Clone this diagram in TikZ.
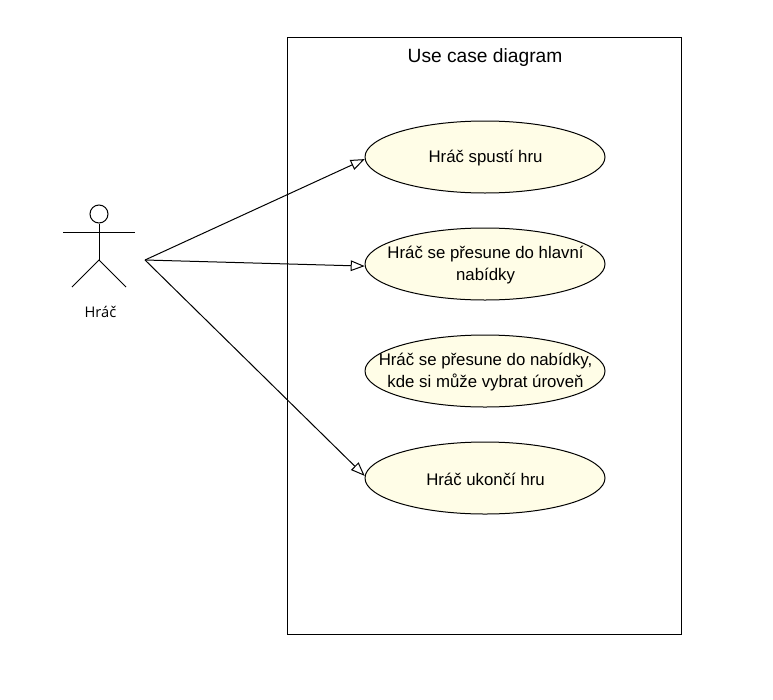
\documentclass[tikz,border=0pt]{standalone}
\usepackage{fontspec}
\setmainfont{Liberation Sans}
\newfontfamily\actorfont{Open Sans}
\usetikzlibrary{positioning}
\usetikzlibrary{shapes.geometric}
\usetikzlibrary{arrows.meta}

\definecolor{casefill}{HTML}{FFFDE7}

\tikzset{
  usecase/.style={draw, ellipse, fill=casefill, minimum width=180pt, minimum height=54pt, inner sep=0pt},
  casetext/.style={align=center, xshift=0.4pt, yshift=-0.75pt, font=\fontsize{12.6}{16.5}\selectfont},
  assoc/.style={-{Triangle[open, length=10.5pt, width=8pt]}},
  limb/.style={line width=0.75pt}
}

\begin{document}
\begin{tikzpicture}[x=0.75pt, y=-0.75pt, line width=0.75pt, node distance=80.25pt]

\useasboundingbox (0, 0) rectangle (773, 699);

\node (Box) at (484.5, 336) [draw, minimum width=295.5pt, minimum height=447.75pt] {};
\node (Title) at (485, 58) {\fontsize{14.4}{16}\selectfont Use case diagram};

\node (C1) at (485, 157) [usecase, label={[casetext]center:Hráč spustí hru}] {};
\node (C2) [below of = C1, usecase, label={[casetext]center:Hráč se přesune do hlavní\\nabídky}] {};
\node (C3) [below of = C2, usecase, label={[casetext]center:Hráč se přesune do nabídky,\\ kde si může vybrat úroveň}] {};
\node (C4) [below of = C3, usecase, label={[casetext]center:Hráč ukončí hru}] {};

% actor
\node (Head) at (99, 214) [draw, circle, minimum size=13.5pt, inner sep=0pt] {};
\coordinate (Hip) at (99, 260);
\coordinate (ArmL) at (63, 232);
\coordinate (ArmR) at (135, 232);
\coordinate (FootL) at (72, 287);
\coordinate (FootR) at (126, 287);
\coordinate (Hand) at (145, 260);
\node (Actor) at (100.5, 312) {\actorfont\fontsize{11}{13}\selectfont Hráč};

\draw[limb] (Head) -- (Hip);
\draw[limb] (ArmL) -- (ArmR);
\draw[limb] (FootL) -- (Hip) -- (FootR);

\path[assoc] (Hand) edge (C1.181);
\path[assoc] (Hand) edge (C2.181);
\path[assoc] (Hand) edge (C4.179);
\end{tikzpicture}
\end{document}
